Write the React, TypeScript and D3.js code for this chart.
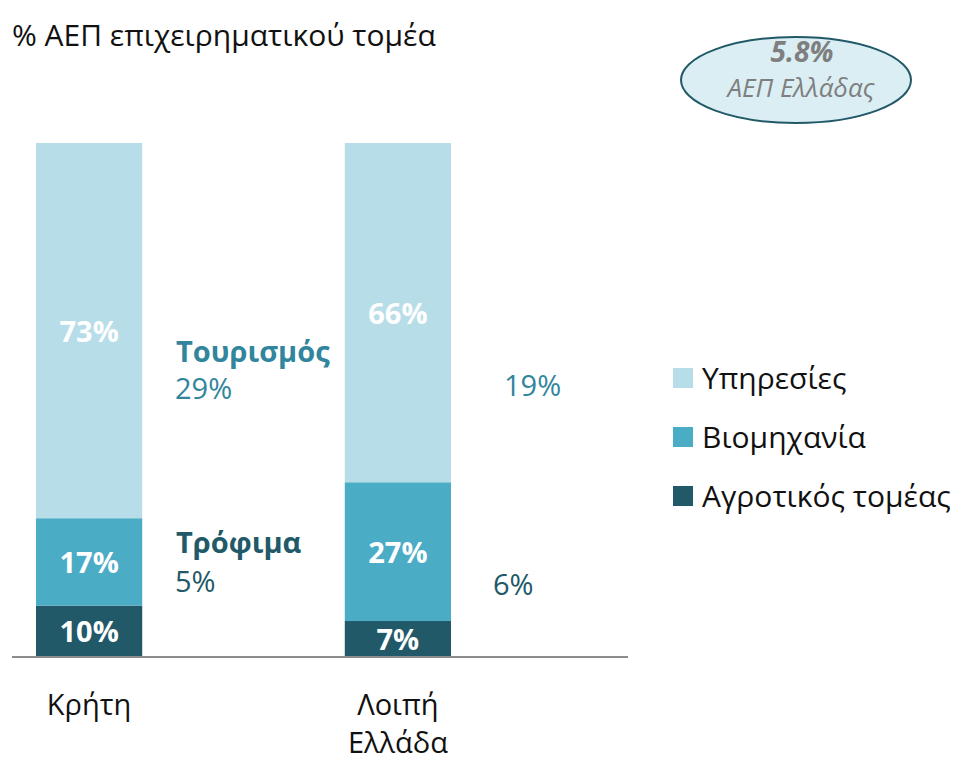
import React from "react";
import * as d3 from "d3";

// categories and stacked series (% of business-sector GDP)
const categories = ["Κρήτη", "Λοιπή\nΕλλάδα"];
const series = ["Αγροτικός τομέας", "Βιομηχανία", "Υπηρεσίες"];
const agriculture = [10, 7];
const industry = [17, 27];
const services = [73, 66];
const colors = ["#215968", "#4BACC6", "#B7DDE8"];

// side annotations
const tourismShare = ["29%", "19%"];
const foodShare = ["5%", "6%"];

const W = 963;
const H = 761;
const FONT = "'Open Sans', 'Noto Sans', sans-serif";

export default function App() {
  const x = d3.scaleBand<string>().domain(categories).range([36, 451]).paddingInner(0.656).paddingOuter(0);
  const y = d3.scaleLinear().domain([0, 100]).range([657, 143]);

  const rows = categories.map((c, i) => ({
    cat: c,
    agriculture: agriculture[i],
    industry: industry[i],
    services: services[i],
  }));
  const stack = d3.stack<any>().keys(["agriculture", "industry", "services"])(rows);

  return (
    <svg width={W} height={H} style={{ position: "absolute", left: 0, top: 0, background: "#fff" }} fontFamily={FONT}>
      <text x={12} y={46} fontSize={30} fill="#111">% ΑΕΠ επιχειρηματικού τομέα</text>

      {/* ellipse callout */}
      <ellipse cx={796} cy={80} rx={115} ry={43} fill="#DAEEF3" stroke="#215968" strokeWidth={2} />
      <text x={802} y={62} textAnchor="middle" fontSize={28} fontWeight={700} fontStyle="italic" fill="#7F7F7F">5.8%</text>
      <text x={801} y={97} textAnchor="middle" fontSize={26} fontStyle="italic" fill="#7F7F7F">ΑΕΠ Ελλάδας</text>

      {stack.map((layer, li) => (
        <g key={li}>
          {layer.map((d, i) => {
            const cat = categories[i];
            const y0 = y(d[0]);
            const y1 = y(d[1]);
            return (
              <g key={i}>
                <rect x={x(cat)} y={y1} width={x.bandwidth()} height={y0 - y1} fill={colors[li]} />
                <text
                  x={(x(cat) as number) + x.bandwidth() / 2}
                  y={(y0 + y1) / 2 + 11}
                  textAnchor="middle"
                  fontSize={29}
                  fontWeight={700}
                  fill="#fff"
                >
                  {d[1] - d[0]}%
                </text>
              </g>
            );
          })}
        </g>
      ))}

      <line x1={12} x2={628} y1={y(0)} y2={y(0)} stroke="#8C8C8C" strokeWidth={2} />

      {categories.map((c) =>
        c.split("\n").map((line, k) => (
          <text
            key={c + k}
            x={(x(c) as number) + x.bandwidth() / 2}
            y={715 + k * 38}
            textAnchor="middle"
            fontSize={29}
            fill="#111"
          >
            {line}
          </text>
        ))
      )}

      {/* annotations */}
      <text x={176} y={362} fontSize={29} fontWeight={700} fill="#31859C">Τουρισμός</text>
      <text x={175} y={399} fontSize={29} fill="#31859C">{tourismShare[0]}</text>
      <text x={176} y={553} fontSize={29} fontWeight={700} fill="#215968">Τρόφιμα</text>
      <text x={175} y={592} fontSize={29} fill="#215968">{foodShare[0]}</text>
      <text x={504} y={396} fontSize={29} fill="#31859C">{tourismShare[1]}</text>
      <text x={493} y={595} fontSize={29} fill="#215968">{foodShare[1]}</text>

      {/* legend */}
      {[2, 1, 0].map((si, k) => (
        <g key={si} transform={`translate(673, ${368 + k * 59})`}>
          <rect x={0} y={0} width={20} height={20} fill={colors[si]} />
          <text x={29} y={21} fontSize={30} fill="#111">{series[si]}</text>
        </g>
      ))}
    </svg>
  );
}
